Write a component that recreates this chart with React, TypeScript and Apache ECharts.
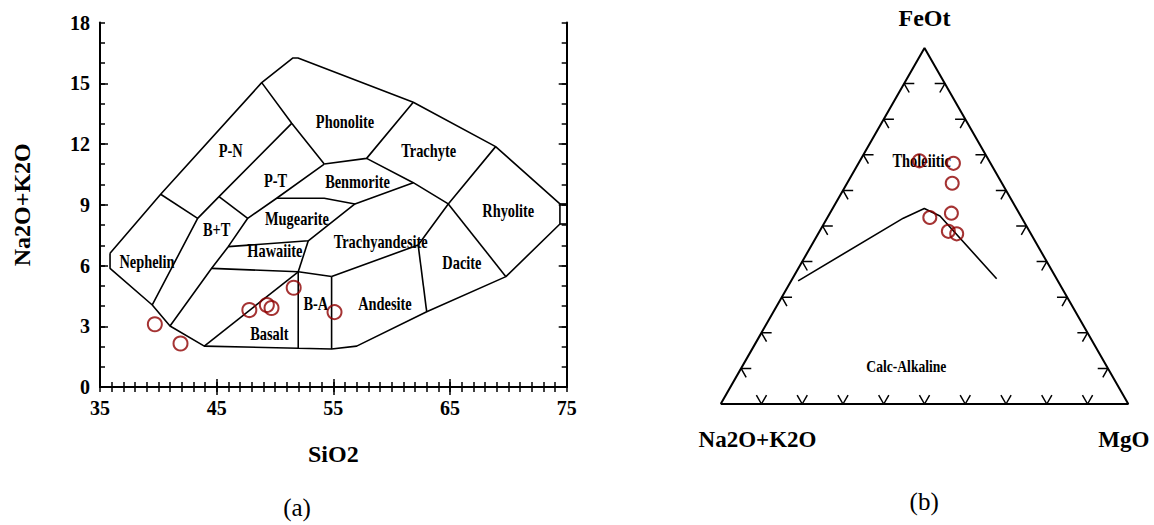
import React, { useEffect, useRef } from "react";
import * as echarts from "echarts";

const SERIF = "'Liberation Serif', 'Times New Roman', Times, serif";
const INK = "#000000";
const SAMPLE = "#8e0000";

// ---------- (a) TAS diagram: SiO2 vs Na2O+K2O ----------
const sio2Min = 35;
const sio2Max = 75;
const alkMin = 0;
const alkMax = 18;
const sio2Labels = [35, 45, 55, 65, 75];
const sio2Major = [45, 55, 65];
const alkLabels = [0, 3, 6, 9, 12, 15, 18];
const alkMajor = [3, 6, 9, 12, 15];

const sampleSiO2 = [39.7, 41.9, 47.8, 49.3, 49.7, 51.6, 55.1];
const sampleAlk = [3.1, 2.15, 3.8, 4.05, 3.9, 4.9, 3.7];

const tasOutline: number[][] = [
  [35.86, 6.6], [40.2, 9.52], [48.86, 15.03], [51.54, 16.25], [51.97, 16.25],
  [61.85, 14.06], [68.91, 11.87], [74.42, 9.04], [74.42, 8.05], [69.79, 5.45],
  [63.0, 3.72], [57.0, 2.02], [54.85, 1.88], [51.99, 1.91], [43.94, 2.02],
  [41.0, 3.01], [39.48, 4.05], [35.86, 5.86], [35.86, 6.6],
];

const tasDividers: number[][][] = [
  [[40.2, 9.52], [43.37, 8.33]],
  [[39.48, 4.05], [43.37, 8.33], [45.2, 9.4], [51.43, 13.02]],
  [[48.86, 15.03], [51.43, 13.02], [54.22, 11.01]],
  [[45.2, 9.4], [47.66, 8.33]],
  [[41.0, 3.01], [44.57, 5.86], [45.99, 6.93], [47.66, 8.33], [50.14, 9.32], [54.22, 11.01]],
  [[54.22, 11.01], [57.85, 11.29], [61.85, 14.06]],
  [[57.85, 11.29], [61.85, 10.09], [64.85, 9.04], [68.91, 11.87]],
  [[50.14, 9.32], [54.22, 9.32], [56.85, 9.04], [61.85, 10.09]],
  [[45.99, 6.93], [52.85, 7.22], [56.85, 9.04]],
  [[44.57, 5.86], [51.99, 5.69], [54.85, 5.46]],
  [[52.85, 7.22], [51.99, 5.69]],
  [[43.94, 2.02], [51.99, 5.69]],
  [[51.99, 5.69], [51.99, 1.91]],
  [[54.85, 5.46], [54.85, 1.88]],
  [[54.85, 5.46], [62.27, 7.01], [64.85, 9.04]],
  [[62.27, 7.01], [63.0, 3.72]],
  [[64.85, 9.04], [69.79, 5.45]],
  [[74.42, 9.04], [75, 9.04]],
  [[74.42, 8.05], [75, 8.05]],
];

const tasFieldNames = [
  "Phonolite", "P-N", "P-T", "Benmorite", "Mugearite", "B+T", "Trachyte", "Rhyolite",
  "Trachyandesite", "Hawaiite", "Nephelin", "Dacite", "B-A", "Andesite", "Basalt",
];
const tasFieldSiO2 = [56.0, 46.2, 50.04, 57.07, 51.88, 45.0, 63.17, 69.99, 59.06, 49.99, 39.03, 66.02, 53.5, 59.42, 49.52];
const tasFieldAlk = [13.09, 11.65, 10.17, 10.12, 8.3, 7.75, 11.65, 8.69, 7.16, 6.72, 6.17, 6.12, 4.1, 4.1, 2.62];

// ---------- (b) AFM ternary: FeOt / Na2O+K2O / MgO ----------
const afmFeOt = [68.3, 67.6, 62.0, 53.6, 52.4, 48.5, 47.8];
const afmAlk = [17.1, 9.1, 12.2, 16.6, 22.5, 19.9, 18.2];
const afmMgO = [14.6, 23.3, 25.8, 29.8, 25.1, 31.6, 34.0];

// tholeiitic / calc-alkaline divide as [FeOt, Na2O+K2O, MgO]
const afmDivide = [
  [34.6, 63.7, 1.7],
  [52.2, 29.1, 18.7],
  [54.9, 22.6, 22.5],
  [52.8, 19.8, 27.4],
  [35.2, 14.7, 50.1],
];
const afmTickSteps = [10, 20, 30, 40, 50, 60, 70, 80, 90];
const afmTickArm = 2.5;
const afmFieldNames = ["Tholeiitic", "Calc-Alkaline"];
const afmFieldComp = [
  [68.2, 16.6, 15.2],
  [10.7, 49.1, 40.2],
];
const afmFieldSize = [18, 17];

const toXY = (f: number, a: number, m: number) => {
  const s = f + a + m;
  return [(m + f / 2) / s, f / s];
};

const lineSeries = (pts: number[][], xi: number, yi: number, width: number) => ({
  type: "line",
  xAxisIndex: xi,
  yAxisIndex: yi,
  data: pts,
  symbol: "none",
  showSymbol: false,
  silent: true,
  clip: false,
  lineStyle: { color: INK, width },
  z: 2,
});

const labelText = (fontSize: number) => ({
  color: INK,
  fontSize,
  fontWeight: "bold" as const,
  fontFamily: SERIF,
});

export default function App() {
  const ref = useRef<HTMLDivElement>(null);

  useEffect(() => {
    if (!ref.current) return;
    const chart = echarts.init(ref.current, null, { renderer: "svg" });

    const afmTickPaths: number[][][] = [];
    afmTickSteps.forEach((t) => {
      const s = afmTickArm;
      afmTickPaths.push([toXY(s, 100 - t - s, t), toXY(0, 100 - t, t), toXY(s, 100 - t, t - s)]);
      afmTickPaths.push([toXY(t, 100 - t - s, s), toXY(t, 100 - t, 0), toXY(t - s, 100 - t, s)]);
      afmTickPaths.push([toXY(t, s, 100 - t - s), toXY(t, 0, 100 - t), toXY(t - s, s, 100 - t)]);
    });
    const triangle = [toXY(0, 100, 0), toXY(0, 0, 100), toXY(100, 0, 0), toXY(0, 100, 0)];

    const tickLine = { color: INK, width: 1.5 };
    const baseX = {
      gridIndex: 0,
      type: "value",
      min: sio2Min,
      max: sio2Max,
      interval: 1,
      splitLine: { show: false },
    };
    const baseY = {
      gridIndex: 0,
      type: "value",
      min: alkMin,
      max: alkMax,
      interval: 1,
      splitLine: { show: false },
    };

    const sampleStyle = { color: "rgba(0,0,0,0)", borderColor: SAMPLE, borderWidth: 2 };

    const option: any = {
      animation: false,
      backgroundColor: "#ffffff",
      textStyle: { fontFamily: SERIF },
      grid: [
        { left: 100, top: 22.5, width: 466.7, height: 364.5, containLabel: false, outerBoundsMode: "none" },
        { left: 720.7, top: 48, width: 407.6, height: 356, containLabel: false, outerBoundsMode: "none" },
      ],
      xAxis: [
        {
          ...baseX,
          position: "bottom",
          axisLine: { show: true, lineStyle: { color: INK, width: 2 } },
          axisTick: { show: true, inside: true, length: 5, lineStyle: tickLine },
          axisLabel: {
            show: true,
            margin: 11,
            formatter: (v: number) => (sio2Labels.includes(Math.round(v)) ? String(Math.round(v)) : ""),
            ...labelText(20),
          },
          name: "SiO2",
          nameLocation: "middle",
          nameGap: 55,
          nameTextStyle: labelText(24),
        },
        {
          ...baseX,
          position: "bottom",
          axisLine: { show: false },
          axisTick: { show: true, inside: true, length: 8, lineStyle: tickLine, customValues: sio2Major },
          axisLabel: { show: false },
        },
        {
          ...baseX,
          position: "top",
          axisLine: { show: true, lineStyle: { color: INK, width: 2 } },
          axisTick: { show: true, inside: true, length: 5, lineStyle: tickLine },
          axisLabel: { show: false },
        },
        {
          ...baseX,
          position: "top",
          axisLine: { show: false },
          axisTick: { show: true, inside: true, length: 8, lineStyle: tickLine, customValues: sio2Major },
          axisLabel: { show: false },
        },
        { gridIndex: 1, type: "value", min: 0, max: 1, show: false },
      ],
      yAxis: [
        {
          ...baseY,
          position: "left",
          axisLine: { show: true, lineStyle: { color: INK, width: 2 } },
          axisTick: { show: true, inside: true, length: 5, lineStyle: tickLine },
          axisLabel: {
            show: true,
            margin: 10,
            formatter: (v: number) => (alkLabels.includes(Math.round(v)) ? String(Math.round(v)) : ""),
            ...labelText(20),
          },
          name: "Na2O+K2O",
          nameLocation: "middle",
          nameRotate: 90,
          nameGap: 66,
          nameTextStyle: labelText(24),
        },
        {
          ...baseY,
          position: "left",
          axisLine: { show: false },
          axisTick: { show: true, inside: true, length: 8, lineStyle: tickLine, customValues: alkMajor },
          axisLabel: { show: false },
        },
        {
          ...baseY,
          position: "right",
          axisLine: { show: true, lineStyle: { color: INK, width: 2 } },
          axisTick: { show: true, inside: true, length: 5, lineStyle: tickLine },
          axisLabel: { show: false },
        },
        {
          ...baseY,
          position: "right",
          axisLine: { show: false },
          axisTick: { show: true, inside: true, length: 8, lineStyle: tickLine, customValues: alkMajor },
          axisLabel: { show: false },
        },
        { gridIndex: 1, type: "value", min: 0, max: 1, show: false },
      ],
      series: [
        lineSeries(tasOutline, 0, 0, 1.6),
        ...tasDividers.map((d) => lineSeries(d, 0, 0, 1.6)),
        {
          type: "custom",
          xAxisIndex: 0,
          yAxisIndex: 0,
          silent: true,
          z: 4,
          data: tasFieldNames.map((_, i) => [tasFieldSiO2[i], tasFieldAlk[i]]),
          renderItem: (params: any, api: any) => {
            const p = api.coord([api.value(0), api.value(1)]);
            return {
              type: "text",
              x: p[0],
              y: p[1],
              scaleX: 0.8,
              style: {
                text: tasFieldNames[params.dataIndex],
                fill: INK,
                fontSize: 18,
                fontWeight: "bold",
                fontFamily: SERIF,
                align: "center",
                verticalAlign: "middle",
              },
            };
          },
        },
        {
          type: "scatter",
          xAxisIndex: 0,
          yAxisIndex: 0,
          data: sampleSiO2.map((x, i) => [x, sampleAlk[i]]),
          symbol: "circle",
          symbolSize: 14,
          silent: true,
          z: 6,
          itemStyle: sampleStyle,
        },
        lineSeries(triangle, 4, 4, 2),
        ...afmTickPaths.map((p) => lineSeries(p, 4, 4, 1.5)),
        lineSeries(afmDivide.map((c) => toXY(c[0], c[1], c[2])), 4, 4, 1.6),
        {
          type: "custom",
          xAxisIndex: 4,
          yAxisIndex: 4,
          silent: true,
          z: 4,
          data: afmFieldComp.map((c) => toXY(c[0], c[1], c[2])),
          renderItem: (params: any, api: any) => {
            const p = api.coord([api.value(0), api.value(1)]);
            return {
              type: "text",
              x: p[0],
              y: p[1],
              scaleX: 0.8,
              style: {
                text: afmFieldNames[params.dataIndex],
                fill: INK,
                fontSize: afmFieldSize[params.dataIndex],
                fontWeight: "bold",
                fontFamily: SERIF,
                align: "center",
                verticalAlign: "middle",
              },
            };
          },
        },
        {
          type: "scatter",
          xAxisIndex: 4,
          yAxisIndex: 4,
          data: afmFeOt.map((f, i) => toXY(f, afmAlk[i], afmMgO[i])),
          symbol: "circle",
          symbolSize: 13,
          silent: true,
          z: 6,
          itemStyle: sampleStyle,
        },
      ],
      graphic: [
        {
          type: "text",
          x: 924.5,
          y: 18,
          style: { text: "FeOt", fill: INK, fontSize: 24, fontWeight: "bold", fontFamily: SERIF, align: "center", verticalAlign: "middle" },
        },
        {
          type: "text",
          x: 757.5,
          y: 439,
          style: { text: "Na2O+K2O", fill: INK, fontSize: 23, fontWeight: "bold", fontFamily: SERIF, align: "center", verticalAlign: "middle" },
        },
        {
          type: "text",
          x: 1123.8,
          y: 439,
          style: { text: "MgO", fill: INK, fontSize: 23, fontWeight: "bold", fontFamily: SERIF, align: "center", verticalAlign: "middle" },
        },
        {
          type: "text",
          x: 297,
          y: 507,
          style: { text: "(a)", fill: INK, fontSize: 25, fontFamily: SERIF, align: "center", verticalAlign: "middle" },
        },
        {
          type: "text",
          x: 924.2,
          y: 501,
          style: { text: "(b)", fill: INK, fontSize: 25, fontFamily: SERIF, align: "center", verticalAlign: "middle" },
        },
      ],
    };

    chart.setOption(option);
    return () => chart.dispose();
  }, []);

  return (
    <div
      ref={ref}
      style={{ position: "fixed", left: 0, top: 0, width: 1154, height: 525, background: "#ffffff" }}
    />
  );
}
